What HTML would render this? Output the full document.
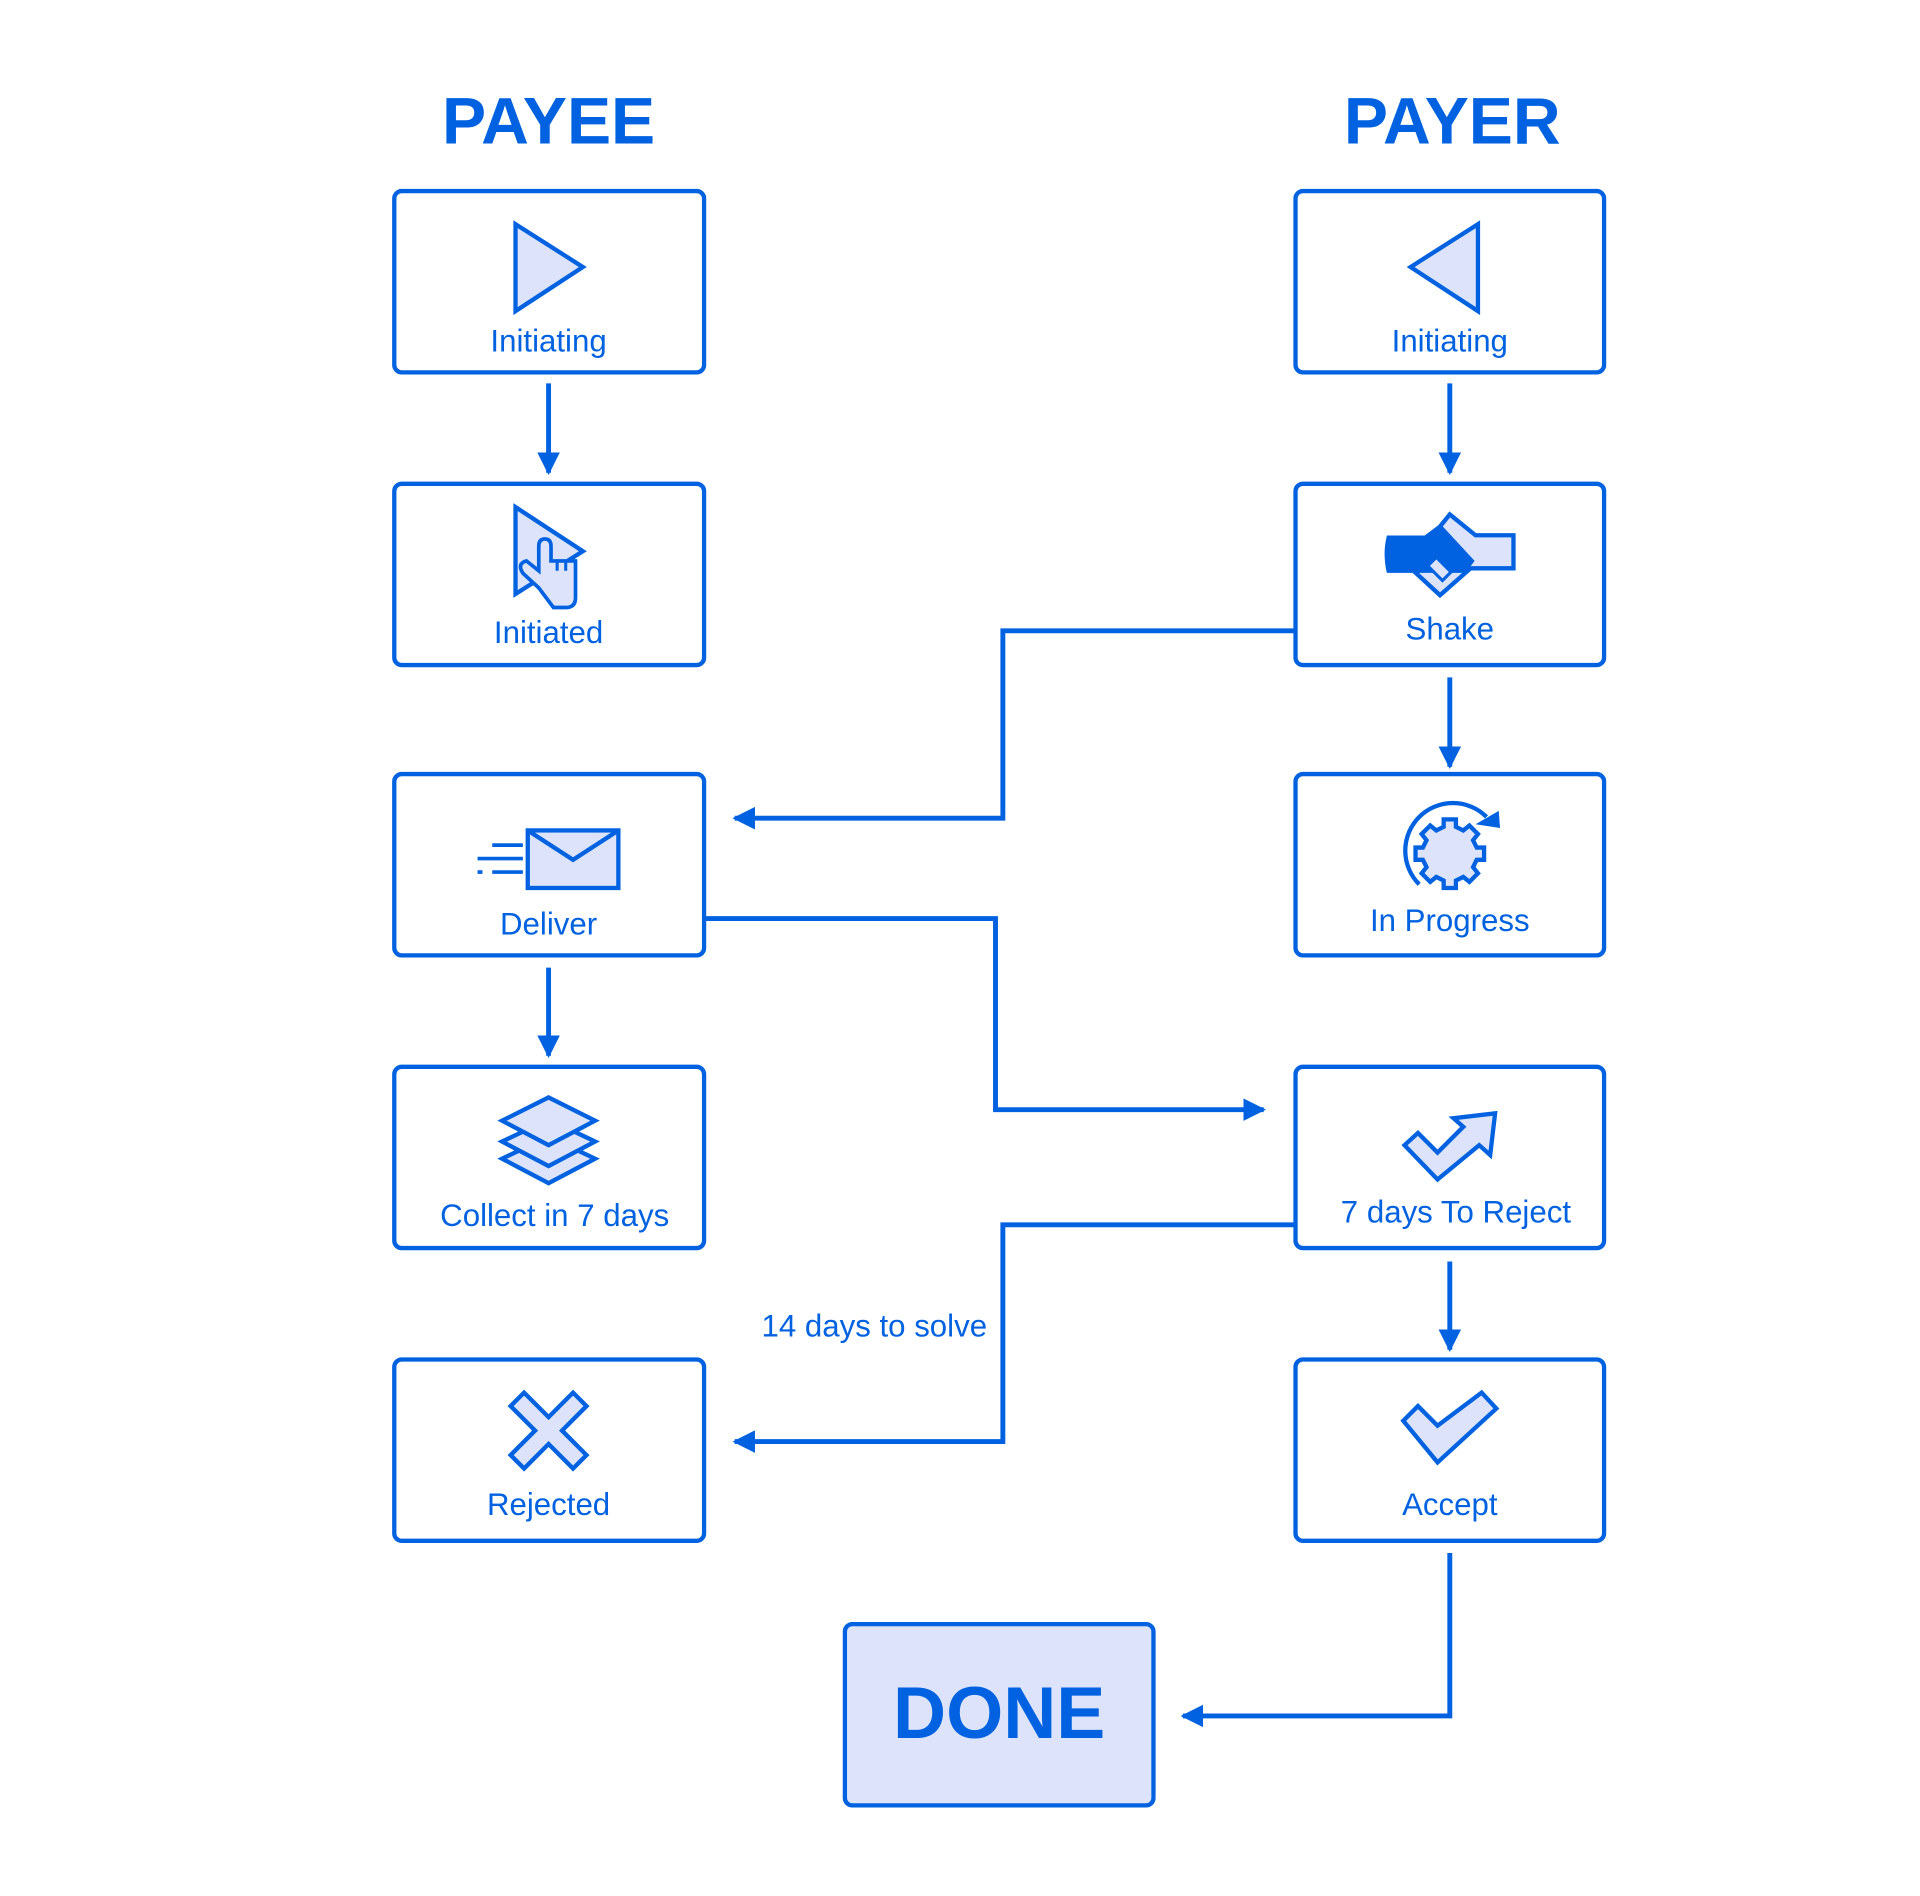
<!DOCTYPE html>
<html><head><meta charset="utf-8"><style>
html,body{margin:0;padding:0;background:#fff;}
svg{display:block;}
text{font-family:"Liberation Sans",sans-serif;fill:#0062e0;}
</style></head><body>
<svg width="1920" height="1896" viewBox="0 0 1568 1548" preserveAspectRatio="none" xmlns="http://www.w3.org/2000/svg">
<defs>
<marker id="ah" viewBox="0 0 10 10" refX="9" refY="5" markerWidth="4.6" markerHeight="4.6" markerUnits="strokeWidth" orient="auto"><path d="M0,0 L10,5 L0,10 z" fill="#0062e0"/></marker>
</defs>
<g fill="none" stroke="#0062e0" stroke-width="3.5">
<rect x="322" y="156" width="253" height="148" rx="6"/>
<rect x="322" y="395" width="253" height="148" rx="6"/>
<rect x="322" y="632" width="253" height="148" rx="6"/>
<rect x="322" y="871" width="253" height="148" rx="6"/>
<rect x="322" y="1110" width="253" height="148" rx="6"/>
<rect x="1058" y="156" width="252" height="148" rx="6"/>
<rect x="1058" y="395" width="252" height="148" rx="6"/>
<rect x="1058" y="632" width="252" height="148" rx="6"/>
<rect x="1058" y="871" width="252" height="148" rx="6"/>
<rect x="1058" y="1110" width="252" height="148" rx="6"/>
<rect x="690" y="1326" width="252" height="148" rx="6" fill="#dce3fb"/>
</g>
<g fill="none" stroke="#0062e0" stroke-width="4" marker-end="url(#ah)">
<path d="M448,313 V386"/>
<path d="M448,790 V862"/>
<path d="M1184,313 V386"/>
<path d="M1184,553 V626"/>
<path d="M1184,1030 V1102"/>
<path d="M1058,515 H819 V668 H600"/>
<path d="M575,750 H813 V906 H1032"/>
<path d="M1058,1000 H819 V1177 H600"/>
<path d="M1184,1268 V1401 H966"/>
</g>
<text x="448" y="117" font-size="54" font-weight="bold" text-anchor="middle">PAYEE</text>
<text x="1186" y="117" font-size="54" font-weight="bold" text-anchor="middle">PAYER</text>
<text x="816" y="1419" font-size="60" font-weight="bold" text-anchor="middle">DONE</text>
<g font-size="25.5" text-anchor="middle">
<text x="448" y="287">Initiating</text>
<text x="1184" y="287">Initiating</text>
<text x="448" y="525">Initiated</text>
<text x="1184" y="522">Shake</text>
<text x="448" y="763">Deliver</text>
<text x="1184" y="760">In Progress</text>
<text x="453" y="1001">Collect in 7 days</text>
<text x="1189" y="998">7 days To Reject</text>
<text x="448" y="1237">Rejected</text>
<text x="1184" y="1237">Accept</text>
<text x="714" y="1091" font-size="25.5">14 days to solve</text>
</g>
<g fill="#dce3fb" stroke="#0062e0" stroke-width="3.5" stroke-linejoin="miter">
<polygon points="421,183 476,218 421,254"/>
<polygon points="1207,183 1152,218 1207,254"/>
<polygon points="421,414 476,450 421,485"/>
<path d="M440,480 L427,468 Q422,460 430,458 L440,466 V446 Q440,440 445,440 Q450,440 450,446 V458 H470 V488 Q470,496 462,496 H452 Z" fill="#dce3fb" stroke-width="3"/>
<path d="M455,458 v8 M462,458 v8" stroke-width="2.5"/>
<rect x="431" y="678" width="74" height="47"/>
<path d="M431,678 L468,702 L505,678" fill="none"/>
<path d="M402,690 H427 M390,701 H427 M402,712 H427" fill="none" stroke-width="3"/>
<path d="M390,712 h4" fill="none" stroke-width="3"/>
<polygon points="448,928 486,946 448,966 410,946"/>
<polygon points="448,914 486,932 448,952 410,932"/>
<polygon points="448,896 486,915 448,935 410,915"/>
<polygon points="417,1148 428,1137 448,1157 468,1137 479,1148 459,1168 479,1188 468,1199 448,1179 428,1199 417,1188 437,1168"/>
<polygon points="1146,1160 1158,1148 1174,1164 1210,1137 1222,1150 1174,1194"/>
<polygon points="1147,935 1158,925 1174,941 1195,920 1187,913 1221,909 1217,943 1208,935 1174,963"/>
<path d="M1179,669 h10 v6 l6,3 5,-4 7,7 -4,5 3,6 h6 v10 h-6 l-3,6 4,5 -7,7 -5,-4 -6,3 v6 h-10 v-6 l-6,-3 -5,4 -7,-7 4,-5 -3,-6 h-6 v-10 h6 l3,-6 -4,-5 7,-7 5,4 6,-3 z"/>
<path d="M1159,722 A38,38 0 0 1 1214,667" fill="none"/>
<polygon points="1205,673 1224,662 1225,676" fill="#0062e0" stroke="none"/>
<!-- handshake -->
<path d="M1184,420 L1205,437 H1236 V464 H1201 L1176,486 L1150,462 Z"/>
<path d="M1134,439 H1164 L1176,430 L1202,458 L1196,466 H1134 Q1131,452 1134,439 Z" fill="#0062e0"/>
<path d="M1166,462 L1173,455 L1185,467 L1178,474 Z" fill="#dce3fb" stroke-width="2.5"/>
</g>
</svg>
</body></html>
